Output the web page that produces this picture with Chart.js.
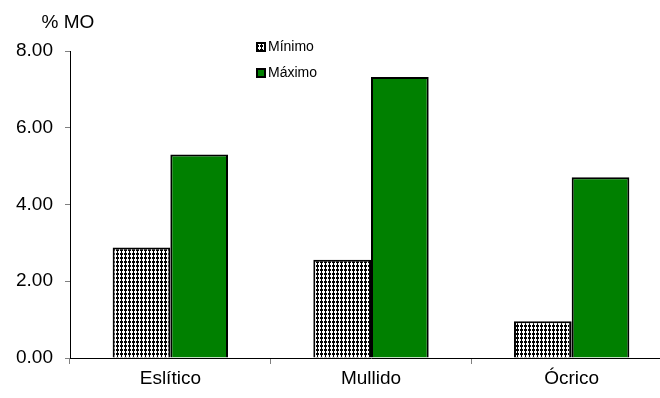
<!DOCTYPE html>
<html>
<head>
<meta charset="utf-8">
<script src="https://cdn.jsdelivr.net/npm/chart.js@4/dist/chart.umd.min.js"></script>
<style>
html,body{margin:0;padding:0;background:#fff;overflow:hidden;}
#wrap{position:absolute;left:0;top:0;width:672px;height:398px;}
</style>
</head>
<body>
<div id="wrap"><canvas id="c" width="672" height="398"></canvas></div>
<script>
const categories = ["Eslítico", "Mullido", "Ócrico"];
const minimo = [2.88, 2.56, 0.96];
const maximo = [5.30, 7.32, 4.71];
const seriesNames = ["Mínimo", "Máximo"];
const yTicks = [0, 2, 4, 6, 8];
const yTitle = "% MO";

const FONT = "'Liberation Sans', Arial, sans-serif";

function makePattern() {
  const p = document.createElement('canvas');
  p.width = 4; p.height = 4;
  const g = p.getContext('2d');
  g.fillStyle = '#fff'; g.fillRect(0, 0, 4, 4);
  g.fillStyle = '#000';
  g.fillRect(1, 0, 1, 4);
  g.fillRect(0, 1, 3, 2);
  return document.getElementById('c').getContext('2d').createPattern(p, 'repeat');
}
const pattern = makePattern();
const GREEN = '#008000';

const legendPlugin = {
  id: 'customLegend',
  afterDraw(chart) {
    const ctx = chart.ctx;
    ctx.save();
    const items = [
      { text: seriesNames[0], fill: pattern, y: 47 },
      { text: seriesNames[1], fill: GREEN, y: 73 }
    ];
    ctx.font = "14px " + FONT;
    ctx.textBaseline = 'middle';
    items.forEach(it => {
      ctx.fillStyle = '#000';
      ctx.fillRect(256, it.y - 5, 10, 10);
      ctx.fillStyle = it.fill;
      ctx.fillRect(258, it.y - 3, 6, 6);
      ctx.fillStyle = '#000';
      ctx.fillText(it.text, 268, it.y + 0.5);
    });
    ctx.font = "19px " + FONT;
    ctx.textAlign = 'center';
    ctx.textBaseline = 'alphabetic';
    ctx.fillText(yTitle, 68, 28);
    ctx.restore();
  }
};

new Chart(document.getElementById('c'), {
  type: 'bar',
  data: {
    labels: categories,
    datasets: [
      { label: seriesNames[0], data: minimo, backgroundColor: pattern, borderColor: '#000', borderWidth: 2 },
      { label: seriesNames[1], data: maximo, backgroundColor: GREEN, borderColor: '#000', borderWidth: 2 }
    ]
  },
  options: {
    responsive: false,
    animation: false,
    devicePixelRatio: 1,
    layout: { padding: { top: 51, right: 0, left: 0, bottom: 0 } },
    datasets: { bar: { categoryPercentage: 0.575, barPercentage: 1 } },
    plugins: { legend: { display: false }, tooltip: { enabled: false }, title: { display: false } },
    scales: {
      x: {
        afterFit(s) { s.height = 40; },
        grid: { drawOnChartArea: false, tickLength: 6, color: '#808080', offset: true },
        border: { color: '#000', width: 1 },
        ticks: { color: '#000', font: { family: FONT, size: 19 }, padding: 3 }
      },
      y: {
        min: 0, max: 8,
        afterFit(s) { s.width = 70; },
        afterBuildTicks(s) { s.ticks = yTicks.map(v => ({ value: v })); },
        grid: { drawOnChartArea: false, tickLength: 5, color: '#808080' },
        border: { color: '#000', width: 1 },
        ticks: { color: '#000', font: { family: FONT, size: 19 }, padding: 12, callback: v => Number(v).toFixed(2) }
      }
    }
  },
  plugins: [legendPlugin]
});
</script>
</body>
</html>
